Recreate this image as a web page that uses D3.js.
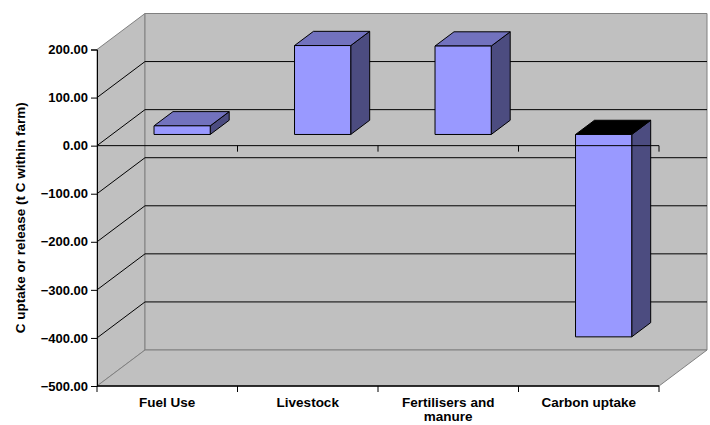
<!DOCTYPE html>
<html lang="en">
<head>
<meta charset="UTF-8">
<title>C uptake or release</title>
<script src="https://d3js.org/d3.v7.min.js"></script>
<style>
    body { margin: 0; background: #fff; }
    text { font-family: "Liberation Sans", Arial, sans-serif; font-weight: bold; fill: #000; }
</style>
</head>
<body>
<div id="chart"></div>
<script>
// data
const categories = ["Fuel Use", "Livestock", "Fertilisers and manure", "Carbon uptake"];
const values = [18, 185, 184, -421];
const yTicks = [200, 100, 0, -100, -200, -300, -400, -500];

const W = 710, H = 425;
const plot = {left: 97, right: 659, top: 49.5, bottom: 386};
const depth = {dx: 48, dy: -36};      // offset of the back wall
const barDepth = [0.31, 0.705];       // bar front/back as fraction of depth

const colors = {
    wall: "#c0c0c0", edge: "#808080",
    front: "#9999ff", top: "#7272be", side: "#4c4c80"
};

const svg = d3.select("#chart").append("svg")
    .attr("width", W).attr("height", H);

const y = d3.scaleLinear().domain([-500, 200]).range([plot.bottom, plot.top]);
const xBand = d3.scaleBand().domain(categories).range([plot.left, plot.right]);
const xBar = d3.scaleBand().domain(categories).range([plot.left, plot.right])
    .paddingInner(0.6).paddingOuter(0.3);

// move a point back in depth
const p = (x, yy, f) => [x + depth.dx * f, yy + depth.dy * f];
const poly = pts => pts.map(d => d.join(",")).join(" ");

const yMax = y(200), yMin = y(-500);

// left wall
svg.append("polygon")
    .attr("points", poly([[plot.left, yMax], p(plot.left, yMax, 1), p(plot.left, yMin, 1), [plot.left, yMin]]))
    .attr("fill", colors.wall).attr("stroke", colors.edge);

// back wall
svg.append("polygon")
    .attr("points", poly([p(plot.left, yMax, 1), p(plot.right, yMax, 1), p(plot.right, yMin, 1), p(plot.left, yMin, 1)]))
    .attr("fill", colors.wall).attr("stroke", colors.edge);

// floor
svg.append("polygon")
    .attr("points", poly([[plot.left, yMin], p(plot.left, yMin, 1), p(plot.right, yMin, 1), [plot.right, yMin]]))
    .attr("fill", colors.wall).attr("stroke", colors.edge);

// gridlines on side and back walls
const inner = yTicks.filter(v => v < 200 && v > -500);
inner.forEach(v => {
    const a = [plot.left, y(v)], b = p(plot.left, y(v), 1), c = p(plot.right, y(v), 1);
    svg.append("polyline")
        .attr("points", poly([a, b, c]))
        .attr("fill", "none").attr("stroke", "#000").attr("stroke-width", 1);
});

// bars
const bars = svg.append("g");
categories.forEach((cat, i) => {
    const v = values[i];
    const x0 = xBar(cat), x1 = xBar(cat) + xBar.bandwidth();
    const [f0, f1] = barDepth;
    const yTop = y(Math.max(v, 0)), yBot = y(Math.min(v, 0));
    const fr = [p(x0, yTop, f0), p(x1, yTop, f0), p(x1, yBot, f0), p(x0, yBot, f0)];
    const topFace = [p(x0, yTop, f0), p(x0, yTop, f1), p(x1, yTop, f1), p(x1, yTop, f0)];
    const side = [p(x1, yTop, f0), p(x1, yTop, f1), p(x1, yBot, f1), p(x1, yBot, f0)];
    bars.append("polygon").attr("points", poly(side))
        .attr("fill", colors.side).attr("stroke", "#000").attr("stroke-linejoin", "round");
    bars.append("polygon").attr("points", poly(topFace))
        .attr("fill", v < 0 ? "#000" : colors.top).attr("stroke", "#000").attr("stroke-linejoin", "round");
    bars.append("polygon").attr("points", poly(fr))
        .attr("fill", colors.front).attr("stroke", "#000").attr("stroke-linejoin", "round");
});

// category axis through zero
const bounds = categories.map(c => xBand(c)).concat([plot.right]);
svg.append("line")
    .attr("x1", plot.left).attr("x2", plot.right)
    .attr("y1", y(0)).attr("y2", y(0))
    .attr("stroke", "#000");
bounds.slice(1).forEach(bx => {
    svg.append("line")
        .attr("x1", bx).attr("x2", bx)
        .attr("y1", y(0)).attr("y2", y(0) + 6)
        .attr("stroke", "#000");
});

// value axis
const yAxis = svg.append("g")
    .attr("transform", `translate(${plot.left},0)`)
    .call(d3.axisLeft(y).tickValues(yTicks).tickFormat(d3.format(".2f")).tickSize(6).tickPadding(3));
yAxis.selectAll("path, line").attr("stroke", "#000");
yAxis.selectAll("text")
    .style("font-family", "'Liberation Sans', Arial, sans-serif")
    .style("font-weight", "bold").style("font-size", "13px");

// bottom axis line with ticks at category boundaries
svg.append("line")
    .attr("x1", plot.left).attr("x2", plot.right)
    .attr("y1", yMin).attr("y2", yMin)
    .attr("stroke", "#000").attr("stroke-width", 1.3);
bounds.forEach(bx => {
    svg.append("line")
        .attr("x1", bx).attr("x2", bx)
        .attr("y1", yMin).attr("y2", yMin + 6)
        .attr("stroke", "#000");
});

// category labels, wrapped
function wrap(textSel, width) {
    textSel.each(function () {
        const t = d3.select(this);
        const words = t.text().split(/\s+/);
        const xx = t.attr("x");
        t.text(null);
        let line = [];
        let tspan = t.append("tspan").attr("x", xx).attr("dy", 0);
        words.forEach(w => {
            line.push(w);
            tspan.text(line.join(" "));
            if (tspan.node().getComputedTextLength() > width && line.length > 1) {
                line.pop();
                tspan.text(line.join(" "));
                line = [w];
                tspan = t.append("tspan").attr("x", xx).attr("dy", "14.5px").text(w);
            }
        });
    });
}

svg.append("g").selectAll("text")
    .data(categories)
    .join("text")
    .attr("x", d => xBand(d) + xBand.bandwidth() / 2)
    .attr("y", yMin + 20.5)
    .attr("text-anchor", "middle")
    .style("font-size", "13.5px")
    .text(d => d)
    .call(wrap, 120);

// axis title
svg.append("text")
    .attr("transform", `translate(25,${(plot.top + plot.bottom) / 2}) rotate(-90)`)
    .attr("text-anchor", "middle")
    .style("font-size", "13.5px")
    .text("C uptake or release (t C within farm)");
</script>
</body>
</html>
